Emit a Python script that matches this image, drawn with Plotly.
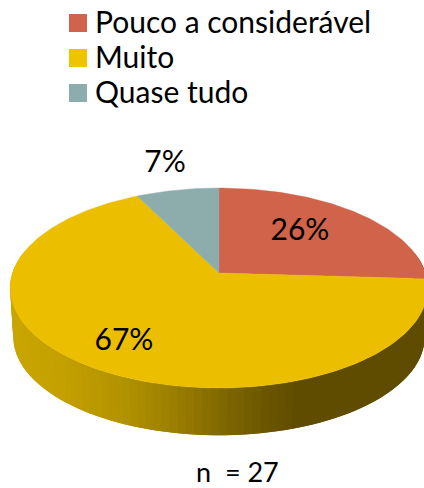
import numpy as np
import plotly.graph_objects as go

categories = ["Pouco a considerável", "Muito", "Quase tudo"]
values = [7, 18, 2]
colors = ["#D1634A", "#EBBF00", "#8DADAD"]
swatch_colors = ["#D1634A", "#EFC300", "#8DADAD"]
value_label_xy = [(300, 232), (124, 342), (165, 164)]
note_text = "n  = 27"

FONT = "Lato, 'Open Sans', sans-serif"
CX, TOP_Y, A, B, K = 219, 273, 206.5, 97.75, 0.15
BOT_Y, BOT_S = 322, 0.985

# side wall colour ramp, by screen x
ramp_x = [0, 60, 120, 170, 215, 260, 295, 430]
ramp_rgb = [(203, 167, 0), (196, 161, 0), (178, 146, 0), (156, 127, 0), (130, 106, 0), (108, 87, 0), (95, 76, 0), (95, 76, 0)]


def project(angle_deg, cy=TOP_Y, s=1.0):
    t = np.radians(angle_deg)
    u, v = np.sin(t), np.cos(t)
    w = 1 + K * v
    return CX + s * A * u / w, cy - s * B * v / w


fig = go.Figure()

# outer wall: each strip overlaps the next one so no seams show
step = 2.0
edges = np.arange(78, 283, step)
for a0, a1 in zip(edges[:-1], edges[1:]):
    arc = np.linspace(a0, a1 + step, 5)
    x0, y0 = project(arc)
    x1, y1 = project(arc[::-1], BOT_Y, BOT_S)
    xm = float((x0.mean() + x1.mean()) / 2)
    rgb = [float(np.interp(xm, ramp_x, [c[i] for c in ramp_rgb])) for i in range(3)]
    col = "rgb(%d,%d,%d)" % tuple(rgb)
    fig.add_trace(go.Scatter(x=np.r_[x0, x1], y=np.r_[y0, y1], mode="lines", fill="toself",
                             fillcolor=col, line=dict(width=0),
                             hoverinfo="skip", showlegend=False))

# top face slices, angles derived from the values
start = 0.0
total = sum(values)
for name, val, col in zip(categories, values, colors):
    end = start + 360 * val / total
    arc = np.linspace(start, end, max(int(val * 12), 12))
    x, y = project(arc)
    fig.add_trace(go.Scatter(x=np.r_[CX, x, CX], y=np.r_[TOP_Y, y, TOP_Y], mode="lines", fill="toself",
                             fillcolor=col, line=dict(color=col, width=0.4), name=name,
                             hoverinfo="skip", showlegend=False))
    start = end

# value labels
fig.add_trace(go.Scatter(x=[p[0] for p in value_label_xy], y=[p[1] for p in value_label_xy],
                         mode="text", text=[f"{round(100 * v / total)}%" for v in values],
                         textfont=dict(family=FONT, size=30, color="#000000"),
                         textposition="middle center", hoverinfo="skip", showlegend=False))

annotations = [dict(x=237, y=471.5, xref="x", yref="y", text=note_text, showarrow=False,
                    font=dict(family=FONT, size=27, color="#000000"))]
shapes = []
for i, (name, col) in enumerate(zip(categories, swatch_colors)):
    y = 23 + 35 * i
    shapes.append(dict(type="rect", xref="x", yref="y", x0=69, x1=87, y0=y - 9, y1=y + 9,
                       fillcolor=col, line=dict(width=0)))
    annotations.append(dict(x=93, y=y - 2, xref="x", yref="y", xanchor="left", text=name, showarrow=False,
                            font=dict(family=FONT, size=30, color="#000000")))

fig.update_layout(
    width=424, height=488, margin=dict(l=0, r=0, t=0, b=0),
    paper_bgcolor="#FFFFFF", plot_bgcolor="#FFFFFF", showlegend=False,
    xaxis=dict(range=[0, 424], visible=False, fixedrange=True),
    yaxis=dict(range=[488, 0], visible=False, fixedrange=True),
    shapes=shapes, annotations=annotations,
)
fig.write_html("out.html", config=dict(displayModeBar=False),
               post_script="document.body.style.margin='0';document.body.style.overflow='hidden';")
